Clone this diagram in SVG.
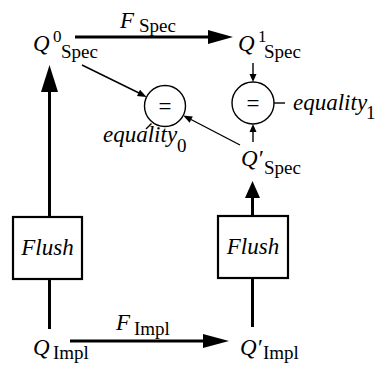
<svg xmlns="http://www.w3.org/2000/svg" width="376" height="365" viewBox="0 0 376 365">
<rect width="376" height="365" fill="#fff"/>
<g id="connectors" fill="none" stroke="#000">
  <line stroke-width="3" x1="75" y1="37" x2="209" y2="37"/>
  <polygon fill="#000" stroke="none" points="208,30 233,37 208,44"/>
  <line stroke-width="3" x1="70" y1="341" x2="204" y2="341"/>
  <polygon fill="#000" stroke="none" points="203,334 229,341 203,348"/>
  <line stroke-width="3" x1="49.5" y1="329" x2="49.5" y2="279"/>
  <line stroke-width="3" x1="49.5" y1="217" x2="49.5" y2="91"/>
  <polygon fill="#000" stroke="none" points="41,92 49.5,65 58,92"/>
  <line stroke-width="3" x1="252.5" y1="327" x2="252.5" y2="278"/>
  <line stroke-width="3" x1="252.5" y1="216" x2="252.5" y2="197"/>
  <polygon fill="#000" stroke="none" points="245,198 252.5,181 260,198"/>
  <line stroke-width="1.4" x1="82" y1="65" x2="139" y2="93"/>
  <polygon fill="#000" stroke="none" points="146.6,96.9 137,96 140,89.8"/>
  <line stroke-width="1.4" x1="240" y1="145" x2="191" y2="119.5"/>
  <polygon fill="#000" stroke="none" points="183.2,115.5 192.8,116.5 189.6,122.7"/>
  <line stroke-width="1.4" x1="253" y1="63" x2="253" y2="75"/>
  <polygon fill="#000" stroke="none" points="249.5,74 253,82 256.5,74"/>
  <line stroke-width="1.4" x1="253" y1="142" x2="253" y2="131"/>
  <polygon fill="#000" stroke="none" points="249.5,132 253,124 256.5,132"/>
  <line stroke-width="1.4" x1="274" y1="103" x2="285" y2="103"/>
  <line stroke-width="1.4" x1="151.5" y1="123.5" x2="146" y2="129"/>
</g>
<g id="fspec">
  <text x="120" y="28" style="font-family:'Liberation Serif',serif;font-style:italic;font-size:23px">F</text>
  <text x="139" y="32" style="font-family:'Liberation Serif',serif;font-size:19px">Spec</text>
</g>
<g id="fimpl">
  <text x="116" y="330" style="font-family:'Liberation Serif',serif;font-style:italic;font-size:23px">F</text>
  <text x="134" y="335" style="font-family:'Liberation Serif',serif;font-size:19px">Impl</text>
</g>
<g id="q0spec">
  <text x="33" y="51" style="font-family:'Liberation Serif',serif;font-style:italic;font-size:23px">Q</text>
  <text x="53" y="42" style="font-family:'Liberation Serif',serif;font-size:17px">0</text>
  <text x="61" y="58" style="font-family:'Liberation Serif',serif;font-size:19px">Spec</text>
</g>
<g id="q1spec">
  <text x="238" y="51" style="font-family:'Liberation Serif',serif;font-style:italic;font-size:23px">Q</text>
  <text x="258" y="42" style="font-family:'Liberation Serif',serif;font-size:17px">1</text>
  <text x="264" y="58" style="font-family:'Liberation Serif',serif;font-size:19px">Spec</text>
</g>
<g id="qpspec">
  <text x="241" y="166" style="font-family:'Liberation Serif',serif;font-style:italic;font-size:23px">Q′</text>
  <text x="264" y="174" style="font-family:'Liberation Serif',serif;font-size:19px">Spec</text>
</g>
<g id="qimpl">
  <text x="33" y="355" style="font-family:'Liberation Serif',serif;font-style:italic;font-size:23px">Q</text>
  <text x="53" y="359" style="font-family:'Liberation Serif',serif;font-size:19px">Impl</text>
</g>
<g id="qpimpl">
  <text x="240" y="355" style="font-family:'Liberation Serif',serif;font-style:italic;font-size:23px">Q′</text>
  <text x="263" y="359" style="font-family:'Liberation Serif',serif;font-size:19px">Impl</text>
</g>
<g id="flush-left">
  <rect x="13" y="217" width="69" height="62" fill="#fff" stroke="#000" stroke-width="2.2"/>
  <text x="47.5" y="255" text-anchor="middle" style="font-family:'Liberation Serif',serif;font-style:italic;font-size:23px">Flush</text>
</g>
<g id="flush-right">
  <rect x="218" y="216" width="70" height="62" fill="#fff" stroke="#000" stroke-width="2.2"/>
  <text x="253" y="254" text-anchor="middle" style="font-family:'Liberation Serif',serif;font-style:italic;font-size:23px">Flush</text>
</g>
<g id="eq0">
  <circle cx="165" cy="106" r="20.5" fill="#fff" stroke="#000" stroke-width="1.4"/>
  <text x="165" y="114" text-anchor="middle" style="font-family:'Liberation Serif',serif;font-size:23px">=</text>
  <text x="103" y="142" style="font-family:'Liberation Serif',serif;font-style:italic;font-size:23px">equality</text>
  <text x="177" y="152" style="font-family:'Liberation Serif',serif;font-size:19px">0</text>
</g>
<g id="eq1">
  <circle cx="253" cy="103" r="21" fill="#fff" stroke="#000" stroke-width="1.4"/>
  <text x="253" y="111" text-anchor="middle" style="font-family:'Liberation Serif',serif;font-size:23px">=</text>
  <text x="293" y="110" style="font-family:'Liberation Serif',serif;font-style:italic;font-size:23px">equality</text>
  <text x="366" y="119" style="font-family:'Liberation Serif',serif;font-size:19px">1</text>
</g>
</svg>
